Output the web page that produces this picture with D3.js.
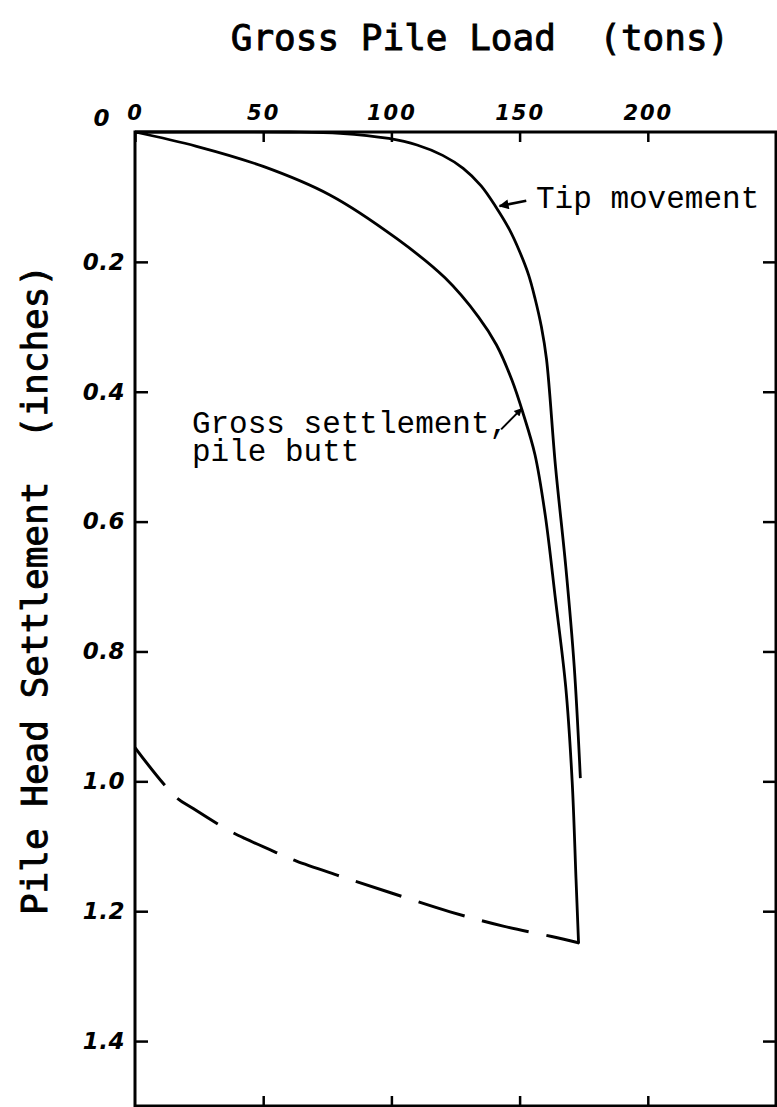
<!DOCTYPE html>
<html><head><meta charset="utf-8">
<script src="https://cdn.jsdelivr.net/npm/d3@7"></script>
<style>html,body{margin:0;padding:0;background:#fff;} svg{display:block}</style>
</head><body>
<script>
// ---- data ----
const xTicks = [0, 50, 100, 150, 200];
const xTickLabels = ["0", "50", "100", "150", "200"];
const yTicks = [0, 0.2, 0.4, 0.6, 0.8, 1.0, 1.2, 1.4];
const yTickLabels = ["0", "0.2", "0.4", "0.6", "0.8", "1.0", "1.2", "1.4"];

// Gross settlement, pile butt (loading)
const grossLoad   = [0, 24, 50, 76, 102, 121, 134, 141, 147, 151.5, 156, 160, 164, 168, 170.5, 172, 173];
const grossSettle = [0, 0.022, 0.053, 0.097, 0.164, 0.225, 0.285, 0.328, 0.382, 0.435, 0.497, 0.59, 0.72, 0.855, 1.0, 1.15, 1.25];

// Tip movement
const tipLoad   = [0, 60, 80, 99, 110, 120, 128, 135, 141, 146, 150, 153.5, 156, 158.5, 160.5, 164, 168, 171.3, 173.7];
const tipSettle = [0, 0, 0.002, 0.01, 0.02, 0.036, 0.056, 0.083, 0.117, 0.15, 0.184, 0.22, 0.256, 0.3, 0.35, 0.515, 0.669, 0.823, 0.995];

// Unloading (dashed)
const unloadLoad   = [0, 15.6, 22.7, 36.3, 42.8, 56.5, 63, 80, 100, 122.9, 143.6, 162.5, 173.3];
const unloadSettle = [0.948, 1.023, 1.042, 1.075, 1.088, 1.112, 1.123, 1.146, 1.172, 1.201, 1.223, 1.239, 1.249];

const titleText = "Gross Pile Load  (tons)";
const yTitleText = "Pile Head Settlement  (inches)";
const tipLabel = "Tip movement";
const grossLabel = ["Gross settlement,", "pile butt"];

// ---- drawing ----
const W = 777, H = 1107;
const svg = d3.select("body").append("svg").attr("width", W).attr("height", H)
  .style("background", "#fff");

const x = d3.scaleLinear().domain([0, 250]).range([135, 776]);
const y = d3.scaleLinear().domain([0, 1.5]).range([132, 1106]);

const ink = "#000";

// frame
svg.append("rect")
  .attr("x", x(0)).attr("y", y(0))
  .attr("width", x(250) - x(0)).attr("height", y(1.5) - y(0))
  .attr("fill", "none").attr("stroke", ink).attr("stroke-width", 3);

const tickFont = "'DejaVu Sans', sans-serif";

// top axis with labels
const topAxis = svg.append("g").attr("transform", `translate(0,${y(0)})`)
  .call(d3.axisTop(x).tickValues(xTicks).tickSize(-10).tickPadding(12)
        .tickFormat((d, i) => xTickLabels[i]));
topAxis.select(".domain").remove();
topAxis.selectAll("line").attr("stroke", ink).attr("stroke-width", 2.5);
topAxis.selectAll("text").attr("font-family", tickFont).attr("font-size", 21)
  .attr("font-style", "italic").attr("font-weight", "bold").attr("fill", ink)
  .attr("letter-spacing", 2);

// bottom ticks
const botAxis = svg.append("g").attr("transform", `translate(0,${y(1.5)})`)
  .call(d3.axisBottom(x).tickValues(xTicks.slice(1)).tickSize(-10).tickFormat(""));
botAxis.select(".domain").remove();
botAxis.selectAll("line").attr("stroke", ink).attr("stroke-width", 2.5);

// left axis with labels
const leftAxis = svg.append("g").attr("transform", `translate(${x(0)},0)`)
  .call(d3.axisLeft(y).tickValues(yTicks).tickSize(-13).tickPadding(10)
        .tickFormat((d, i) => yTickLabels[i]));
leftAxis.select(".domain").remove();
leftAxis.selectAll("line").attr("stroke", ink).attr("stroke-width", 2.5);
leftAxis.selectAll("text").attr("font-family", tickFont).attr("font-size", 23)
  .attr("font-style", "italic").attr("font-weight", "bold").attr("fill", ink)
  .attr("letter-spacing", 0.5);
// the "0" label sits level with the top tick labels
leftAxis.selectAll(".tick").filter(d => d === 0).select("text")
  .attr("x", -25).attr("dy", "-0.3em");

// right ticks
const rightAxis = svg.append("g").attr("transform", `translate(${x(250)},0)`)
  .call(d3.axisRight(y).tickValues(yTicks.slice(1)).tickSize(-13).tickFormat(""));
rightAxis.select(".domain").remove();
rightAxis.selectAll("line").attr("stroke", ink).attr("stroke-width", 2.5);

// curves
const line = d3.line().x(d => x(d[0])).y(d => y(d[1])).curve(d3.curveCatmullRom.alpha(0.5));
const grossPts = grossLoad.map((v, i) => [v, grossSettle[i]]);
const tipPts = tipLoad.map((v, i) => [v, tipSettle[i]]);
const unloadPts = unloadLoad.map((v, i) => [v, unloadSettle[i]]);

svg.append("path").attr("d", line(grossPts)).attr("fill", "none")
  .attr("stroke", ink).attr("stroke-width", 2.8);
svg.append("path").attr("d", line(tipPts)).attr("fill", "none")
  .attr("stroke", ink).attr("stroke-width", 2.8);
svg.append("path").attr("d", line(unloadPts)).attr("fill", "none")
  .attr("stroke", ink).attr("stroke-width", 3).attr("stroke-dasharray", "48,18");

// arrow marker
svg.append("defs").append("marker")
  .attr("id", "ah").attr("viewBox", "0 0 10 10").attr("refX", 9).attr("refY", 5)
  .attr("markerWidth", 6).attr("markerHeight", 4).attr("orient", "auto")
  .attr("markerUnits", "strokeWidth")
  .append("path").attr("d", "M0,0 L10,5 L0,10 z").attr("fill", ink);

// annotations (positions in data units)
const annoFont = "'Liberation Mono', 'Courier New', monospace";
svg.append("text").attr("x", x(156.4)).attr("y", y(0.117))
  .attr("font-family", annoFont).attr("font-size", 31).attr("fill", ink).text(tipLabel);
svg.append("line")
  .attr("x1", x(152.6)).attr("y1", y(0.106)).attr("x2", x(142.2)).attr("y2", y(0.114))
  .attr("stroke", ink).attr("stroke-width", 2.5).attr("marker-end", "url(#ah)");

svg.append("text").attr("font-family", annoFont).attr("font-size", 31).attr("fill", ink)
  .selectAll("tspan").data(grossLabel).join("tspan")
  .attr("x", x(22.2)).attr("y", (d, i) => y(0.463 + i * 0.043)).text(d => d);
svg.append("line")
  .attr("x1", x(142.8)).attr("y1", y(0.458)).attr("x2", x(150.8)).attr("y2", y(0.426))
  .attr("stroke", ink).attr("stroke-width", 2).attr("marker-end", "url(#ah)");

// titles
const titleFont = "'DejaVu Sans Mono', monospace";
svg.append("text").attr("x", 480).attr("y", 50).attr("text-anchor", "middle")
  .attr("font-family", titleFont).attr("font-weight", "normal").attr("font-size", 36)
  .attr("fill", ink).attr("stroke", ink).attr("stroke-width", 0.9)
  .style("white-space", "pre").text(titleText);

svg.append("text").attr("transform", "translate(47,590) rotate(-90)")
  .attr("text-anchor", "middle")
  .attr("font-family", titleFont).attr("font-weight", "normal").attr("font-size", 36)
  .attr("fill", ink).attr("stroke", ink).attr("stroke-width", 0.9)
  .style("white-space", "pre").text(yTitleText);
</script>
</body></html>
